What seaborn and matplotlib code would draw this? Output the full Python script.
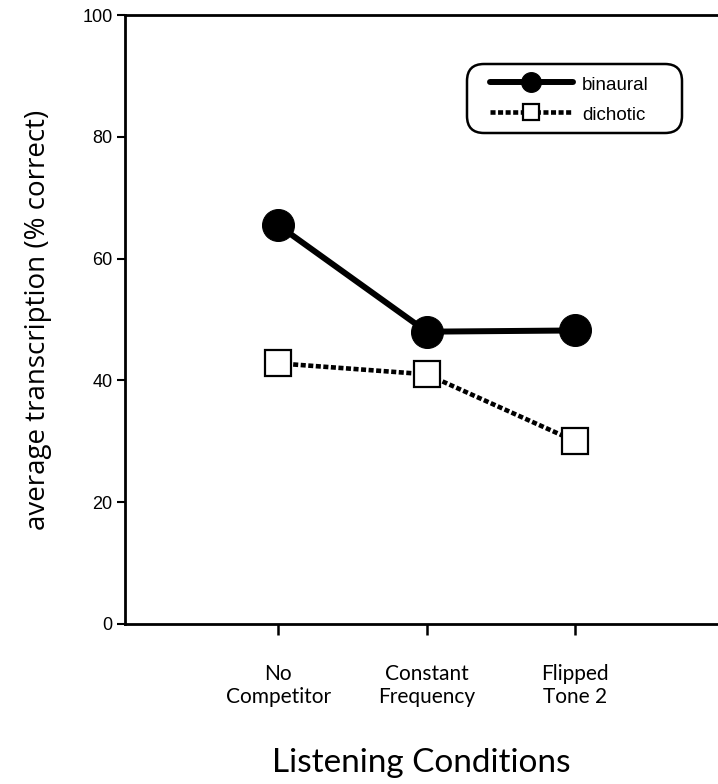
import numpy as np
import pandas as pd
import matplotlib
matplotlib.use('Agg')
import matplotlib.pyplot as plt
from matplotlib.patches import FancyBboxPatch
from matplotlib.transforms import IdentityTransform
import seaborn as sns

conditions = ['No\nCompetitor', 'Constant\nFrequency', 'Flipped\nTone 2']
binaural = [65.5, 48.0, 48.2]
dichotic = [42.8, 41.0, 30.0]

sns.set_style('ticks')
plt.rcParams['font.family'] = ['Liberation Sans', 'DejaVu Sans']
plt.rcParams['text.color'] = 'black'
plt.rcParams['axes.labelcolor'] = 'black'
plt.rcParams['xtick.color'] = 'black'
plt.rcParams['ytick.color'] = 'black'

df = pd.DataFrame({
    'pos': np.tile(np.arange(1, len(conditions) + 1), 2),
    'value': binaural + dichotic,
    'series': ['binaural'] * 3 + ['dichotic'] * 3,
})

fig = plt.figure(figsize=(7.18, 7.84), dpi=100)
ax = fig.add_axes([125 / 718, 1 - 624 / 784, 1 - 125 / 718, 609 / 784])

sns.lineplot(data=df[df.series == 'binaural'], x='pos', y='value', ax=ax,
             color='black', linewidth=4.3, marker='o', markersize=23,
             markerfacecolor='black', markeredgecolor='black', label='binaural')
sns.lineplot(data=df[df.series == 'dichotic'], x='pos', y='value', ax=ax,
             color='black', linewidth=3.3, linestyle=(0, (1.1, 0.55)), marker='s', markersize=19,
             markerfacecolor='white', markeredgecolor='black', markeredgewidth=1.6,
             label='dichotic')

ax.set_xlim(-0.03, 3.96)
ax.set_ylim(0, 100)
ax.set_yticks([0, 20, 40, 60, 80, 100])
ax.set_xticks([1, 2, 3])
ax.set_xticklabels(conditions, fontsize=15, family=['Lato', 'DejaVu Sans'], linespacing=1.15)
ax.tick_params(axis='y', labelsize=13, length=6, width=1.5, direction='out', pad=3)
ax.tick_params(axis='x', length=8, width=1.8, direction='out', pad=21)
for s in ['left', 'bottom', 'top']:
    ax.spines[s].set_linewidth(2)
    ax.spines[s].set_color('black')
ax.spines['right'].set_visible(False)

ax.set_xlabel('Listening Conditions', fontsize=24, family=['Lato', 'DejaVu Sans'], labelpad=30)
ax.set_ylabel('average transcription (% correct)', fontsize=20,
              family=['Open Sans', 'DejaVu Sans'], labelpad=22)

# legend contents without frame, rounded box drawn separately
leg = ax.legend(loc='upper left', fontsize=13.5, handlelength=4.4, handleheight=1.0,
                frameon=False, borderpad=0, markerscale=0.62,
                handletextpad=0.5, labelspacing=0.6, borderaxespad=0)
leg.set_bbox_to_anchor((490 / 718, 1 - 75 / 784), transform=fig.transFigure)
box = FancyBboxPatch((467, 784 - 133), 215, 69, boxstyle='round,pad=0,rounding_size=17',
                     transform=IdentityTransform(), fill=False, edgecolor='black', linewidth=1.8)
fig.add_artist(box)

fig.savefig('out.png', dpi=100)
